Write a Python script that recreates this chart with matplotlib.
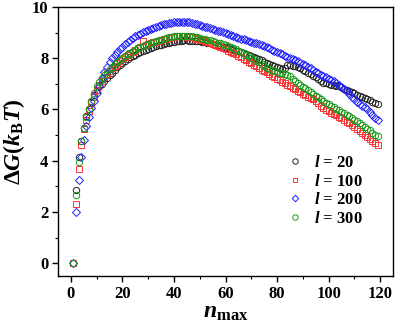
import numpy as np
import matplotlib
matplotlib.use("Agg")
import matplotlib.pyplot as plt

plt.rcParams["font.family"] = ["Liberation Serif", "DejaVu Serif"]
plt.rcParams["mathtext.fontset"] = "custom"
plt.rcParams["mathtext.rm"] = "Liberation Serif:bold"
plt.rcParams["mathtext.it"] = "Liberation Serif:italic:bold"
plt.rcParams["mathtext.bf"] = "Liberation Serif:bold"
plt.rcParams["mathtext.bfit"] = "Liberation Serif:italic:bold"

# cluster size n_max = 1 ... 119
n_max = list(range(1, 120))

dG_l20 = [
    0.00, 2.84, 4.15, 4.78, 5.29, 5.73, 6.03, 6.30, 6.55, 6.75,
    6.90, 7.00, 7.10, 7.22, 7.33, 7.44, 7.55, 7.65, 7.75, 7.83,
    7.90, 7.97, 8.03, 8.09, 8.14, 8.20, 8.25, 8.29, 8.33, 8.37,
    8.41, 8.44, 8.47, 8.50, 8.53, 8.56, 8.58, 8.61, 8.63, 8.65,
    8.67, 8.68, 8.69, 8.70, 8.70, 8.69, 8.69, 8.68, 8.67, 8.66,
    8.64, 8.62, 8.60, 8.58, 8.56, 8.53, 8.51, 8.48, 8.45, 8.43,
    8.40, 8.37, 8.34, 8.30, 8.27, 8.23, 8.20, 8.16, 8.12, 8.08,
    8.04, 8.00, 7.96, 7.92, 7.87, 7.82, 7.78, 7.74, 7.70, 7.66,
    7.62, 7.58, 7.60, 7.72, 7.72, 7.70, 7.68, 7.65, 7.60, 7.55,
    7.49, 7.43, 7.37, 7.31, 7.25, 7.18, 7.11, 7.05, 7.02, 6.99,
    6.97, 6.95, 6.92, 6.90, 6.86, 6.81, 6.77, 6.72, 6.68, 6.63,
    6.58, 6.54, 6.50, 6.45, 6.41, 6.36, 6.31, 6.27, 6.22,
]

dG_l100 = [
    0.00, 2.30, 3.69, 4.60, 5.25, 5.60, 5.95, 6.25, 6.50, 6.75,
    6.95, 7.12, 7.28, 7.40, 7.50, 7.60, 7.70, 7.80, 7.90, 7.98,
    8.06, 8.13, 8.20, 8.26, 8.32, 8.38, 8.42, 8.66, 8.50, 8.54,
    8.58, 8.62, 8.65, 8.68, 8.71, 8.74, 8.77, 8.80, 8.82, 8.84,
    8.85, 8.86, 8.86, 8.85, 8.84, 8.83, 8.81, 8.79, 8.76, 8.73,
    8.70, 8.67, 8.63, 8.60, 8.56, 8.52, 8.48, 8.44, 8.40, 8.35,
    8.30, 8.26, 8.21, 8.15, 8.10, 8.04, 7.98, 7.92, 7.86, 7.80,
    7.74, 7.68, 7.62, 7.55, 7.50, 7.45, 7.38, 7.32, 7.26, 7.20,
    7.14, 7.08, 7.02, 6.96, 6.90, 6.85, 6.80, 6.74, 6.68, 6.62,
    6.56, 6.50, 6.45, 6.40, 6.35, 6.25, 6.15, 6.05, 5.99, 5.94,
    5.88, 5.83, 5.78, 5.72, 5.66, 5.60, 5.53, 5.47, 5.40, 5.33,
    5.25, 5.17, 5.09, 5.01, 4.93, 4.85, 4.77, 4.68, 4.60,
]

dG_l200 = [
    0.00, 2.01, 3.23, 4.15, 4.80, 5.34, 5.72, 6.05, 6.35, 6.65,
    6.92, 7.20, 7.45, 7.66, 7.85, 7.99, 8.12, 8.24, 8.35, 8.45,
    8.54, 8.63, 8.71, 8.78, 8.85, 8.91, 8.96, 9.01, 9.06, 9.10,
    9.14, 9.18, 9.22, 9.26, 9.29, 9.32, 9.35, 9.37, 9.39, 9.41,
    9.42, 9.43, 9.43, 9.42, 9.42, 9.40, 9.38, 9.35, 9.32, 9.29,
    9.26, 9.23, 9.20, 9.17, 9.14, 9.11, 9.08, 9.05, 9.02, 8.98,
    8.94, 8.90, 8.86, 8.83, 8.80, 8.77, 8.74, 8.71, 8.68, 8.65,
    8.61, 8.58, 8.54, 8.50, 8.46, 8.42, 8.38, 8.34, 8.29, 8.25,
    8.20, 8.15, 8.10, 8.05, 8.00, 7.96, 7.92, 7.88, 7.83, 7.78,
    7.72, 7.66, 7.60, 7.54, 7.48, 7.42, 7.36, 7.30, 7.25, 7.20,
    7.15, 7.10, 7.03, 6.95, 6.87, 6.79, 6.71, 6.61, 6.50, 6.40,
    6.30, 6.23, 6.15, 6.08, 6.00, 5.90, 5.79, 5.68, 5.57,
]

dG_l300 = [
    0.00, 2.65, 3.94, 4.75, 5.29, 5.72, 6.02, 6.35, 6.65, 6.90,
    7.08, 7.22, 7.36, 7.47, 7.57, 7.67, 7.76, 7.85, 7.94, 8.02,
    8.09, 8.16, 8.22, 8.28, 8.34, 8.40, 8.44, 8.48, 8.52, 8.56,
    8.60, 8.63, 8.66, 8.70, 8.73, 8.76, 8.79, 8.81, 8.83, 8.86,
    8.87, 8.88, 8.88, 8.87, 8.87, 8.86, 8.85, 8.83, 8.81, 8.79,
    8.77, 8.75, 8.72, 8.70, 8.67, 8.64, 8.61, 8.58, 8.54, 8.51,
    8.47, 8.43, 8.40, 8.35, 8.30, 8.25, 8.19, 8.13, 8.07, 8.01,
    7.96, 7.90, 7.84, 7.78, 7.70, 7.62, 7.58, 7.54, 7.50, 7.47,
    7.44, 7.41, 7.38, 7.34, 7.30, 7.20, 7.10, 7.02, 6.95, 6.89,
    6.82, 6.75, 6.68, 6.61, 6.54, 6.47, 6.40, 6.32, 6.26, 6.20,
    6.14, 6.08, 6.03, 5.97, 5.91, 5.85, 5.79, 5.73, 5.67, 5.60,
    5.54, 5.47, 5.40, 5.32, 5.25, 5.18, 5.10, 5.02, 4.95,
]

series = [
    (dG_l20, "$\\mathbfit{l}$ = 20", "o", "#222222", 4.6),
    (dG_l100, "$\\mathbfit{l}$ = 100", "s", "#ff3333", 4.2),
    (dG_l200, "$\\mathbfit{l}$ = 200", "D", "#2020ff", 3.9),
    (dG_l300, "$\\mathbfit{l}$ = 300", "o", "#1a9a1a", 4.6),
]

fig = plt.figure(figsize=(4.0, 3.27), dpi=100)
ax = fig.add_axes([0.145, 0.156, 0.8375, 0.8226])

for vals, lab, mk, col, ms in series:
    ax.plot(n_max, vals, linestyle="none", marker=mk, markersize=ms,
            markerfacecolor="none", markeredgecolor=col,
            markeredgewidth=0.7, label=lab)

ax.set_xlim(-5, 125)
ax.set_ylim(-0.5, 10)
ax.set_xticks([0, 20, 40, 60, 80, 100, 120])
ax.set_xticks([10, 30, 50, 70, 90, 110], minor=True)
ax.set_yticks([0, 2, 4, 6, 8, 10])
ax.set_yticks([1, 3, 5, 7, 9], minor=True)
ax.tick_params(which="major", direction="out", length=4, width=1.0,
               labelsize=12, pad=3)
ax.tick_params(which="minor", direction="out", length=2.5, width=0.8)
for lbl in ax.get_xticklabels() + ax.get_yticklabels():
    lbl.set_fontweight("bold")
for sp in ax.spines.values():
    sp.set_linewidth(1.0)

ax.set_xlabel("$\\mathbfit{n}_{\\mathbf{max}}$", fontsize=17, labelpad=0)
ax.set_ylabel("$\\mathbf{\\Delta}\\mathbfit{G}\\mathbf{(}\\mathbfit{k}_{\\mathbf{B}}\\mathbfit{T}\\mathbf{)}$",
              fontsize=17, labelpad=3)

leg = ax.legend(loc="lower right", bbox_to_anchor=(0.93, 0.158), frameon=False,
                prop={"weight": "bold", "size": 12},
                handletextpad=0.15, labelspacing=0.15, markerscale=0.85,
                borderaxespad=0)

fig.savefig("out.png", dpi=100)
